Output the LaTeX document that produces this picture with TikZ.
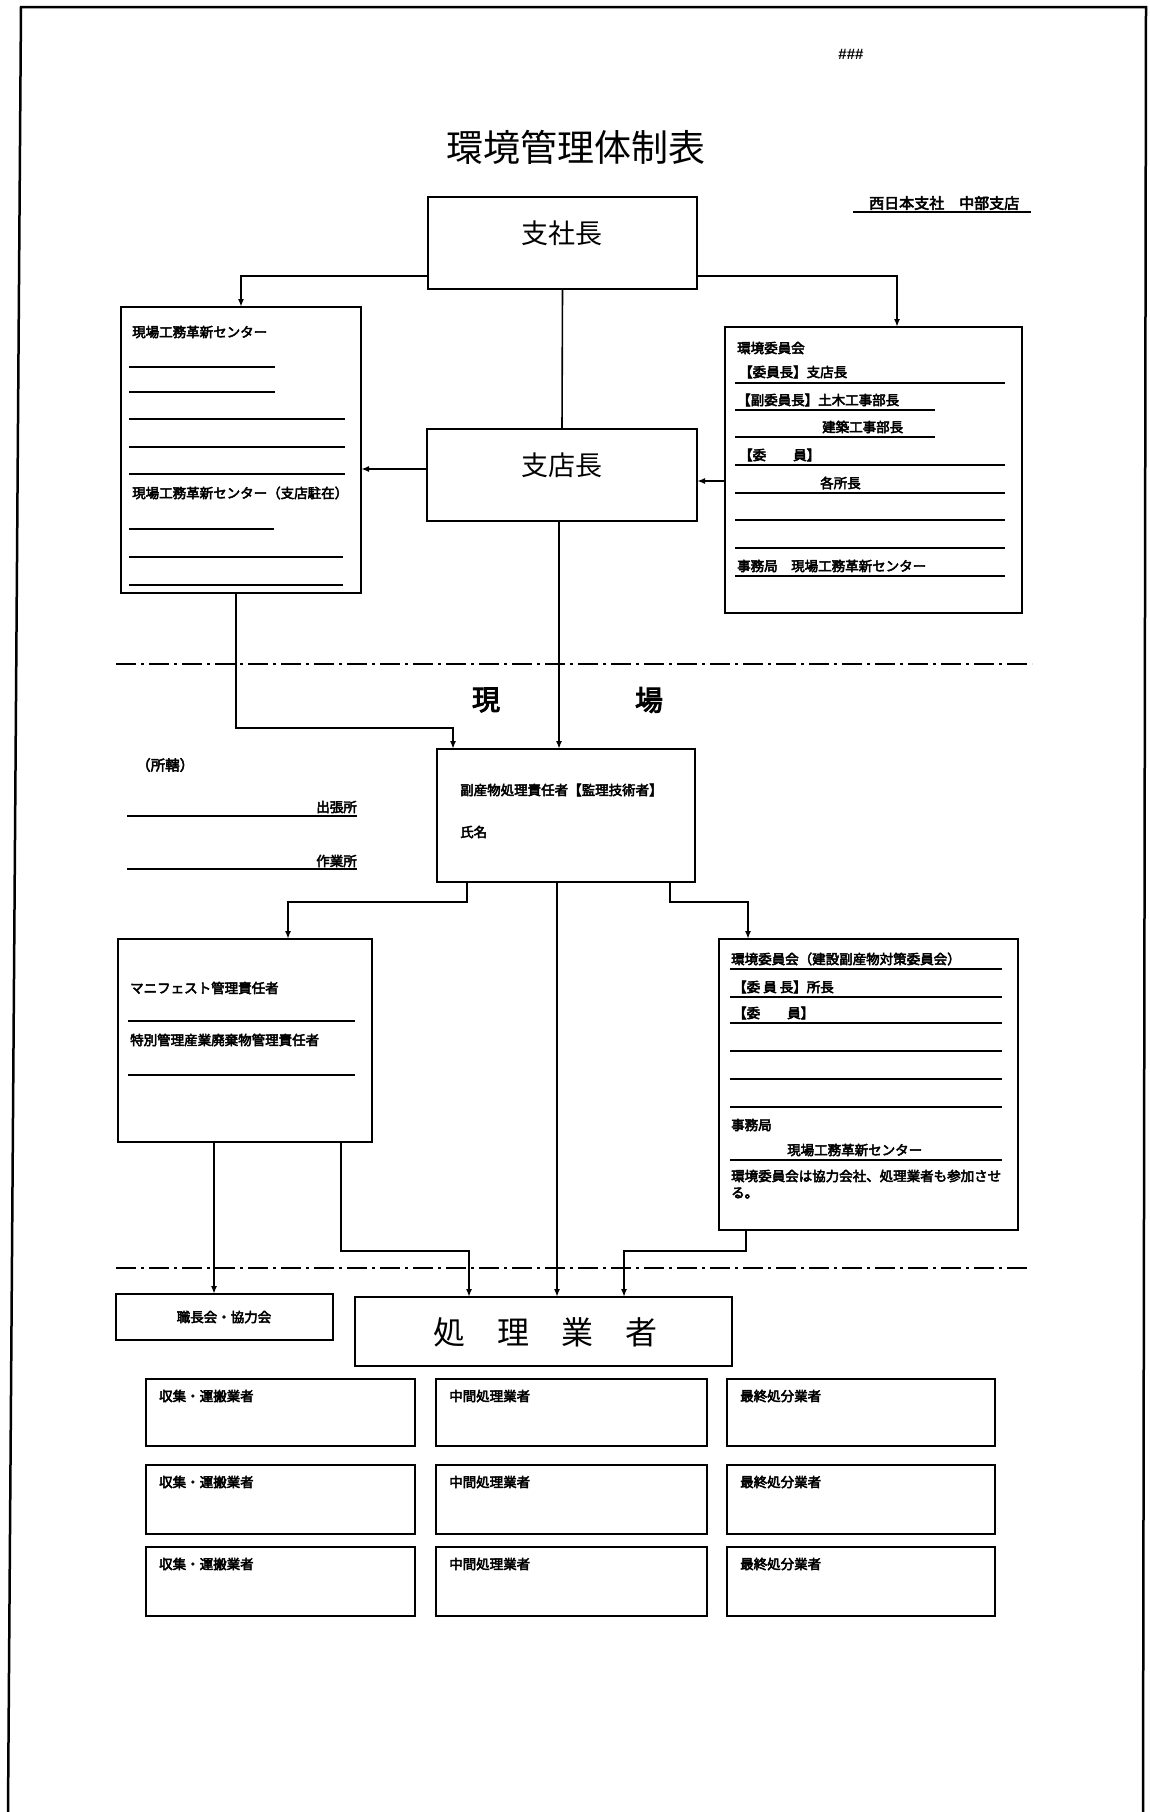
\documentclass[tikz,border=0pt]{standalone}
\usepackage{fontspec}
\setmainfont{Liberation Sans}
\newfontfamily\jp[AutoFakeBold=3.5]{Noto Sans CJK JP}
\usetikzlibrary{arrows.meta,calc}
\begin{document}
\begin{tikzpicture}[x=1pt,y=-1pt,
  box/.style={draw, line width=2pt, anchor=north west, inner sep=0pt, outer sep=0pt},
  t/.style={anchor=west, inner sep=0pt, font=\jp\bfseries\fontsize{13.5}{16}\selectfont},
  big/.style={inner sep=0pt, font=\jp\fontsize{27}{30}\selectfont},
  rl/.style={line width=1.4pt},
  conn/.style={line width=1.6pt},
  arr/.style={line width=1.6pt, -{Latex[length=8pt,width=6pt]}},
  dd/.style={line width=1.6pt, dash pattern=on 20pt off 5pt on 3pt off 5pt}]
\useasboundingbox (0,0) rectangle (1149,1812);
\fill[white] (0,0) rectangle (1149,1812);
% page frame
\draw[line width=2.5pt] (8,1812) -- (21,7) -- (1146,7) -- (1143,1812);

% header
\node[inner sep=0pt, font=\bfseries\fontsize{15}{17}\selectfont] (hash) at (851,54) {\#\#\#};
\node[inner sep=0pt, font=\jp\fontsize{37}{40}\selectfont] (title) at (576,147) {環境管理体制表};
\node[t, font=\jp\bfseries\fontsize{15}{17}\selectfont] (branch) at (869,203) {西日本支社　中部支店};
\draw[rl] (853,212) -- (1031,212);

% top boxes
\node[box, minimum width=269pt, minimum height=92pt] (shisha) at (428,197) {};
\node[big] (shishaT) at (562,233) {支社長};
\node[box, minimum width=270pt, minimum height=92pt] (shiten) at (427,429) {};
\node[big] (shitenT) at (562,465) {支店長};

% left box
\node[box, minimum width=240pt, minimum height=286pt] (kc) at (121,307) {};
\node[t] (kc1) at (132,332) {現場工務革新センター};
\draw[rl] (129,367) -- (275,367);
\draw[rl] (129,392) -- (275,392);
\draw[rl] (129,419) -- (345,419);
\draw[rl] (129,447) -- (345,447);
\draw[rl] (129,474) -- (345,474);
\node[t] (kc2) at (132,493) {現場工務革新センター（支店駐在）};
\draw[rl] (129,529) -- (274,529);
\draw[rl] (129,557) -- (343,557);
\draw[rl] (129,585) -- (343,585);

% right box 1
\node[box, minimum width=297pt, minimum height=286pt] (ei1) at (725,327) {};
\node[t] (e1a) at (737,348) {環境委員会};
\node[t] (e1b) at (739,372) {【委員長】支店長};
\draw[rl] (735,383) -- (1005,383);
\node[t] (e1c) at (737,400) {【副委員長】土木工事部長};
\draw[rl] (735,410) -- (935,410);
\node[t] (e1d) at (822,427) {建築工事部長};
\draw[rl] (735,437) -- (935,437);
\node[t] (e1e) at (739,455) {【委　　員】};
\draw[rl] (735,465) -- (1005,465);
\node[t] (e1f) at (820,483) {各所長};
\draw[rl] (735,493) -- (1005,493);
\draw[rl] (735,520) -- (1005,520);
\draw[rl] (735,548) -- (1005,548);
\node[t] (e1g) at (737,566) {事務局　現場工務革新センター};
\draw[rl] (735,576) -- (1005,576);

% connectors top
\draw[arr] ([yshift=-33pt]shisha.west) -| (kc.north);
\draw[arr] ([yshift=-33pt]shisha.east) -| ([xshift=23.5pt]ei1.north);
\draw[conn] (shisha.south) -- (shiten.north);
\coordinate (a1) at ([yshift=6pt]shiten.west);
\draw[arr] (a1) -- (a1 -| kc.east);
\coordinate (a2) at ([yshift=-11pt]ei1.west);
\draw[arr] (a2) -- (a2 -| shiten.east);

% dash-dot line 1
\draw[dd] (116,664) -- (1032,664);
\node[big, font=\jp\bfseries\fontsize{28}{30}\selectfont] (gen) at (486,700) {現};
\node[big, font=\jp\bfseries\fontsize{28}{30}\selectfont] (ba) at (649,700) {場};

% middle
\node[box, minimum width=258pt, minimum height=133pt] (fuku) at (437,749) {};
\node[t] (f1) at (460,790) {副産物処理責任者【監理技術者】};
\node[t] (f2) at (460,832) {氏名};
\coordinate (a3) at ([xshift=-3pt]shiten.south);
\draw[arr] (a3) -- (a3 |- fuku.north);
\coordinate (a4) at ([xshift=-5pt]kc.south);
\draw[arr] (a4) -- ++(0,135) -| ([xshift=-113pt]fuku.north);

\node[t, font=\jp\bfseries\fontsize{14.5}{16}\selectfont] (shokatsu) at (136,765) {（所轄）};
\node[t, anchor=east] (shutcho) at (357,807) {出張所};
\draw[rl] (127,816) -- (357,816);
\node[t, anchor=east] (sagyo) at (357,861) {作業所};
\draw[rl] (127,869) -- (357,869);

% manifest box
\node[box, minimum width=254pt, minimum height=203pt] (mani) at (118,939) {};
\node[t] (m1) at (130,988) {マニフェスト管理責任者};
\draw[rl] (128,1021) -- (355,1021);
\node[t] (m2) at (130,1040) {特別管理産業廃棄物管理責任者};
\draw[rl] (128,1075) -- (355,1075);

% right box 2
\node[box, minimum width=299pt, minimum height=291pt] (ei2) at (719,939) {};
\node[t] (e2a) at (731,959) {環境委員会（建設副産物対策委員会）};
\draw[rl] (730,969) -- (1002,969);
\node[t] (e2b) at (733,987) {【委 員 長】所長};
\draw[rl] (730,997) -- (1002,997);
\node[t] (e2c) at (733,1013) {【委　　員】};
\draw[rl] (730,1023) -- (1002,1023);
\draw[rl] (730,1051) -- (1002,1051);
\draw[rl] (730,1079) -- (1002,1079);
\draw[rl] (730,1107) -- (1002,1107);
\node[t] (e2d) at (731,1125) {事務局};
\node[t] (e2e) at (787,1150) {現場工務革新センター};
\draw[rl] (730,1160) -- (1002,1160);
\node[t] (e2f) at (731,1176) {環境委員会は協力会社、処理業者も参加させ};
\node[t] (e2g) at (731,1193) {る。};

\coordinate (b1) at ([xshift=-99pt]fuku.south);
\draw[arr] (b1) -- ++(0,20) -| ([xshift=43pt]mani.north);
\coordinate (b2) at ([xshift=104pt]fuku.south);
\draw[arr] (b2) -- ++(0,20) -| ([xshift=-120.5pt]ei2.north);

% dash-dot line 2
\draw[dd] (116,1268) -- (1029,1268);

% lower boxes
\node[box, minimum width=217pt, minimum height=46pt] (shoku) at (116,1294) {};
\node[inner sep=0pt, font=\jp\bfseries\fontsize{13.5}{16}\selectfont] (shokuT) at (224,1317) {職長会・協力会};
\node[box, minimum width=377pt, minimum height=69pt] (shori) at (355,1297) {};
\node[inner sep=0pt, font=\jp\fontsize{32}{34}\selectfont] (shoriT) at (545,1332) {処　理　業　者};

\coordinate (b3) at ([xshift=-9pt]fuku.south);
\draw[arr] (b3) -- (b3 |- shori.north);
\coordinate (c1) at ([xshift=-31pt]mani.south);
\draw[arr] (c1) -- (c1 |- shoku.north);
\coordinate (c2) at ([xshift=96pt]mani.south);
\draw[arr] (c2) -- ++(0,109) -| ([xshift=-74.5pt]shori.north);
\coordinate (c3) at ([xshift=-122.5pt]ei2.south);
\draw[arr] (c3) -- ++(0,21) -| ([xshift=80.5pt]shori.north);

% contractor boxes
\node[box, minimum width=269pt, minimum height=67pt] (r1a) at (146,1379) {};
\node[box, minimum width=271pt, minimum height=67pt] (r1b) at (436,1379) {};
\node[box, minimum width=268pt, minimum height=67pt] (r1c) at (727,1379) {};
\node[box, minimum width=269pt, minimum height=69pt] (r2a) at (146,1465) {};
\node[box, minimum width=271pt, minimum height=69pt] (r2b) at (436,1465) {};
\node[box, minimum width=268pt, minimum height=69pt] (r2c) at (727,1465) {};
\node[box, minimum width=269pt, minimum height=69pt] (r3a) at (146,1547) {};
\node[box, minimum width=271pt, minimum height=69pt] (r3b) at (436,1547) {};
\node[box, minimum width=268pt, minimum height=69pt] (r3c) at (727,1547) {};
\node[t] (r1aT) at (159,1396) {収集・運搬業者};
\node[t] (r1bT) at (449,1396) {中間処理業者};
\node[t] (r1cT) at (740,1396) {最終処分業者};
\node[t] (r2aT) at (159,1482) {収集・運搬業者};
\node[t] (r2bT) at (449,1482) {中間処理業者};
\node[t] (r2cT) at (740,1482) {最終処分業者};
\node[t] (r3aT) at (159,1564) {収集・運搬業者};
\node[t] (r3bT) at (449,1564) {中間処理業者};
\node[t] (r3cT) at (740,1564) {最終処分業者};
\end{tikzpicture}
\end{document}
